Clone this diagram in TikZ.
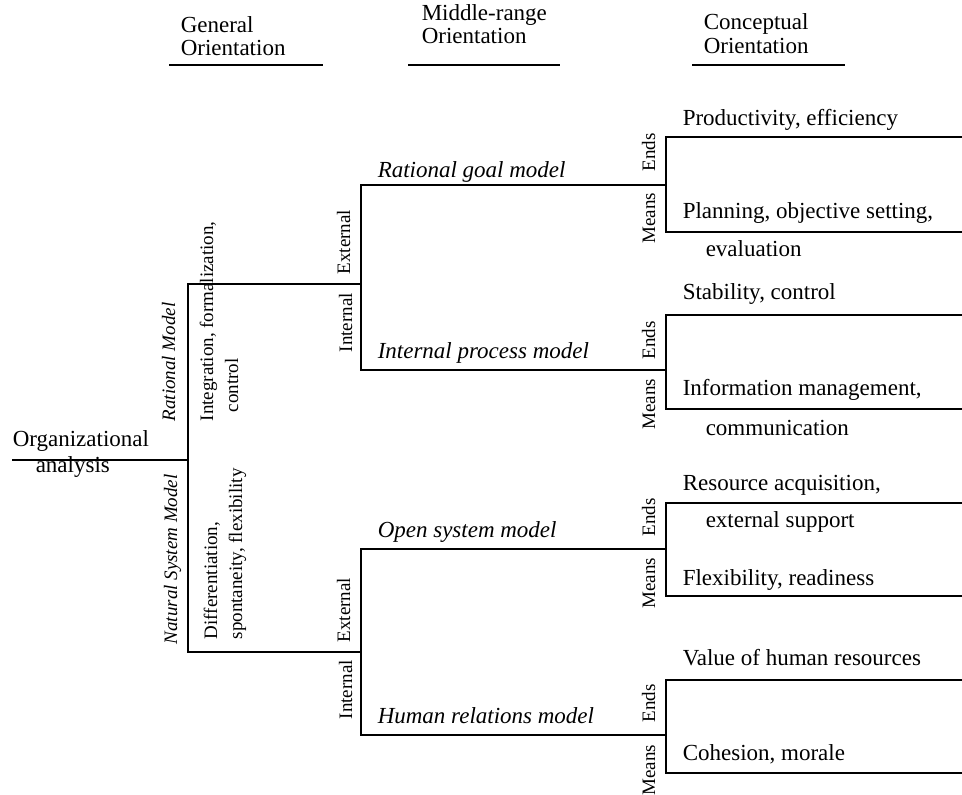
\documentclass[tikz,border=0pt]{standalone}
\usepackage{fontspec}
\setmainfont{Liberation Serif}
\begin{document}
\begin{tikzpicture}[x=1pt,y=-1pt,line width=1.5pt,
	chu/.style={anchor=base west,inner sep=0pt,font=\fontsize{23}{27}\selectfont},
	doc/.style={rotate=90,anchor=base west,inner sep=0pt,font=\fontsize{19}{23}\selectfont},
	docb/.style={doc,anchor=base east}]
			\useasboundingbox (0,0) rectangle (962,795);
			% Tiêu đề ba cột
			\node[chu] (gen1) at (180,32) {General};
			\node[chu] (gen2) at (180,55) {Orientation};
			\node[chu] (mid1) at (421,20) {Middle-range};
			\node[chu] (mid2) at (421,43) {Orientation};
			\node[chu] (con1) at (703,30) {Conceptual};
			\node[chu] (con2) at (703,53) {Orientation};
			\coordinate (genA) at (169,65); \coordinate (genB) at (323,65);
			\coordinate (midA) at (408,65); \coordinate (midB) at (560,65);
			\coordinate (conA) at (692,65); \coordinate (conB) at (845,65);
			\draw (genA) -- (genB);
			\draw (midA) -- (midB);
			\draw (conA) -- (conB);
			% Gốc cây
			\coordinate (O1) at (12,460);
			\coordinate (O2) at (188,460);
			\coordinate (R1) at (188,284);
			\coordinate (R2) at (188,652);
			\coordinate (M1) at (361,284);
			\coordinate (M2) at (361,652);
			\draw (O1) -- (O2);
			\draw (M1) -- (R1) -- (R2) -- (M2);
			\node[chu] (org1) at (12,446) {Organizational};
			\node[chu] (org2) at (35,472) {analysis};
			% Nhánh giữa
			\coordinate (A1) at (361,185);
			\coordinate (A2) at (361,370);
			\coordinate (B1) at (361,549);
			\coordinate (B2) at (361,735);
			\coordinate (E1) at (666,185);
			\coordinate (E2) at (666,370);
			\coordinate (E3) at (666,549);
			\coordinate (E4) at (666,735);
			\draw (E1) -- (A1) -- (A2) -- (E2);
			\draw (E3) -- (B1) -- (B2) -- (E4);
			% Các ngoặc bên phải
			\coordinate (P1) at (962,137); \coordinate (Q1) at (962,232);
			\coordinate (P2) at (962,315); \coordinate (Q2) at (962,409);
			\coordinate (P3) at (962,503); \coordinate (Q3) at (962,596);
			\coordinate (P4) at (962,680); \coordinate (Q4) at (962,773);
			\draw (P1) -| (E1) |- (Q1);
			\draw (P2) -| (E2) |- (Q2);
			\draw (P3) -| (E3) |- (Q3);
			\draw (P4) -| (E4) |- (Q4);
			% Nhãn dọc
			\node[doc] (rat) at (175,422) {\itshape Rational Model};
			\node[doc] (nat) at (177,645) {\itshape Natural System Model};
			\node[doc] (int1) at (213,422) {Integration, formalization,};
			\node[doc] (int2) at (238,413) {control};
			\node[doc] (dif1) at (217,640) {Differentiation,};
			\node[doc] (dif2) at (242,640) {spontaneity, flexibility};
			\node[doc] (ext1) at (350,275) {External};
			\node[doc] (inn1) at (352,353) {Internal};
			\node[doc] (ext2) at (350,643) {External};
			\node[doc] (inn2) at (352,720) {Internal};
			\node[doc] (end1) at (655,172) {Ends};
			\node[docb] (mea1) at (655,192) {Means};
			\node[doc] (end2) at (655,360) {Ends};
			\node[docb] (mea2) at (655,378) {Means};
			\node[doc] (end3) at (655,537) {Ends};
			\node[docb] (mea3) at (655,557) {Means};
			\node[doc] (end4) at (655,723) {Ends};
			\node[docb] (mea4) at (655,744) {Means};
			% Tên các mô hình
			\node[chu] (goal) at (377,177) {\itshape Rational goal model};
			\node[chu] (proc) at (377,358) {\itshape Internal process model};
			\node[chu] (open) at (377,537) {\itshape Open system model};
			\node[chu] (hum) at (377,723) {\itshape Human relations model};
			% Mục tiêu và phương tiện
			\node[chu] (c1) at (682,125) {Productivity, efficiency};
			\node[chu] (c2) at (682,218) {Planning, objective setting,};
			\node[chu] (c3) at (705,256) {evaluation};
			\node[chu] (c4) at (682,299) {Stability, control};
			\node[chu] (c5) at (682,395) {Information management,};
			\node[chu] (c6) at (705,435) {communication};
			\node[chu] (c7) at (682,490) {Resource acquisition,};
			\node[chu] (c8) at (705,527) {external support};
			\node[chu] (c9) at (682,585) {Flexibility, readiness};
			\node[chu] (c10) at (682,665) {Value of human resources};
			\node[chu] (c11) at (682,760) {Cohesion, morale};
\end{tikzpicture}
\end{document}
